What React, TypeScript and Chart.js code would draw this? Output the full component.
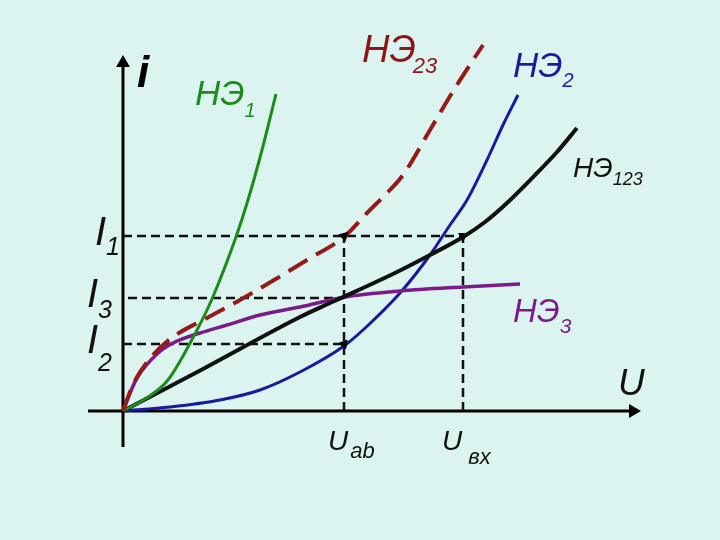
import React, { useEffect, useRef } from "react";
import { Chart, registerables } from "chart.js";

Chart.register(...registerables);

// Units: U and i in arbitrary diagram units (origin at the axes crossing)
const ne1U = [0, 2.2, 4.5, 7.4, 8.9, 11.3, 12.5, 13.9, 15.3];
const ne1I = [0, 1.2, 3.1, 8.1, 11.2, 17.4, 21.1, 26.1, 31.7];

const ne23U = [0, 0.7, 1.4, 3.0, 5.0, 8.4, 11.7, 18.4, 22.2, 24.5, 26.2, 28.0, 30.7, 33.2, 36.0];
const ne23I = [0, 1.9, 3.4, 5.6, 7.4, 9.3, 11.1, 15.1, 17.5, 19.9, 21.6, 23.6, 28.1, 32.3, 36.6];

const ne2U = [0, 4.7, 9.7, 13.7, 17.7, 22.1, 24.0, 27.7, 30.7, 32.7, 34.4, 36.4, 38.0, 39.5];
const ne2I = [0, 0.4, 1.1, 2.1, 3.9, 6.5, 8.1, 11.8, 15.6, 18.6, 21.1, 25.1, 28.6, 31.6];

const ne123U = [0, 8.0, 17.7, 20.7, 24.0, 27.4, 30.7, 34.0, 36.2, 38.4, 41.4, 43.4, 45.4];
const ne123I = [0, 4.2, 9.4, 10.8, 12.3, 13.9, 15.6, 17.4, 18.9, 20.8, 23.8, 25.9, 28.3];

const ne3U = [0, 0.5, 1.4, 3.4, 5.0, 7.7, 10.4, 13.7, 17.7, 22.2, 27.7, 34.0, 39.7];
const ne3I = [0, 1.3, 3.3, 5.7, 6.8, 7.8, 8.6, 9.6, 10.4, 11.4, 12.0, 12.4, 12.7];

const I1 = 17.5;
const I3 = 11.3;
const I2 = 6.7;
const Uab = 22.1;
const Uvx = 34.0;

const xAxisRange = [-3.5, 51.0];
const yAxisRange = [-3.6, 34.8];

const pts = (xs: number[], ys: number[]) => xs.map((x, k) => ({ x, y: ys[k] }));

const FONT = '"Liberation Sans", Arial, sans-serif';

type Lbl = {
  text: string;
  sub?: string;
  color: string;
  x: number;
  y: number;
  size: number;
  subSize?: number;
  subDy?: number;
  subDx?: number;
  weight?: string;
};

const labels: Lbl[] = [
  { text: "i", color: "#000", x: 1.4, y: 32.4, size: 44, weight: "bold" },
  { text: "НЭ", sub: "1", color: "#1a8c1a", x: 7.2, y: 30.6, size: 35, subSize: 20, subDy: 12 },
  { text: "НЭ", sub: "23", color: "#8e1515", x: 23.9, y: 34.9, size: 38, subSize: 22, subDy: 11, subDx: -3 },
  { text: "НЭ", sub: "2", color: "#1a1a9e", x: 39.0, y: 33.4, size: 35, subSize: 20, subDy: 10 },
  { text: "НЭ", sub: "123", color: "#111", x: 45.0, y: 23.4, size: 28, subSize: 18, subDy: 8 },
  { text: "НЭ", sub: "3", color: "#7d1a8a", x: 39.0, y: 8.9, size: 33, subSize: 21, subDy: 11 },
  { text: "I", sub: "1", color: "#111", x: -2.8, y: 16.6, size: 40, subSize: 25, subDy: 10 },
  { text: "I", sub: "3", color: "#111", x: -3.6, y: 10.4, size: 40, subSize: 25, subDy: 11 },
  { text: "I", sub: "2", color: "#111", x: -3.6, y: 5.8, size: 40, subSize: 25, subDy: 18 },
  { text: "U", color: "#111", x: 49.5, y: 1.6, size: 37 },
  { text: "U", sub: "ab", color: "#111", x: 20.5, y: -3.9, size: 28, subSize: 22, subDy: 8, subDx: 2 },
  { text: "U", sub: "вх", color: "#111", x: 31.9, y: -3.9, size: 28, subSize: 22, subDy: 14, subDx: 6 },
];

const labelPlugin = {
  id: "labels",
  afterDraw(chart: any) {
    const { ctx } = chart;
    const xs = chart.scales.x;
    const ys = chart.scales.y;
    ctx.save();
    ctx.textBaseline = "alphabetic";
    ctx.textAlign = "left";
    for (const l of labels) {
      const px = xs.getPixelForValue(l.x);
      const py = ys.getPixelForValue(l.y);
      ctx.fillStyle = l.color;
      ctx.font = `italic ${l.weight || "normal"} ${l.size}px ${FONT}`;
      ctx.fillText(l.text, px, py);
      const w = ctx.measureText(l.text).width;
      if (l.sub) {
        ctx.font = `italic normal ${l.subSize}px ${FONT}`;
        ctx.fillText(l.sub, px + w + (l.subDx || 0), py + (l.subDy || 0));
      }
    }
    ctx.restore();
  },
};

export default function App() {
  const ref = useRef<HTMLCanvasElement | null>(null);
  useEffect(() => {
    if (!ref.current) return;
    const dash = [9, 5];
    const refLine = (data: { x: number; y: number }[]) => ({
      data,
      borderColor: "#111",
      borderWidth: 2.5,
      borderDash: dash,
      pointRadius: 0,
      showLine: true,
      order: 10,
    });
    const curve = (data: any, color: string, width: number, order: number, extra: any = {}) => ({
      data,
      borderColor: color,
      borderWidth: width,
      pointRadius: 0,
      showLine: true,
      cubicInterpolationMode: "monotone",
      order,
      ...extra,
    });
    const chart = new Chart(ref.current, {
      type: "scatter",
      data: {
        datasets: [
          // axes
          {
            data: [{ x: xAxisRange[0], y: 0 }, { x: xAxisRange[1], y: 0 }],
            borderColor: "#000",
            backgroundColor: "#000",
            borderWidth: 3,
            showLine: true,
            pointRadius: [0, 5],
            pointStyle: "triangle",
            rotation: 90,
            order: 20,
          } as any,
          {
            data: [{ x: 0, y: yAxisRange[0] }, { x: 0, y: yAxisRange[1] }],
            borderColor: "#000",
            backgroundColor: "#000",
            borderWidth: 3,
            showLine: true,
            pointRadius: [0, 5],
            pointStyle: "triangle",
            rotation: 0,
            order: 20,
          } as any,
          refLine([{ x: 0, y: I1 }, { x: Uvx, y: I1 }]),
          refLine([{ x: 0.5, y: I3 }, { x: Uab, y: I3 }]),
          refLine([{ x: 0, y: I2 }, { x: Uab, y: I2 }]),
          refLine([{ x: Uab, y: 0 }, { x: Uab, y: I1 }]),
          refLine([{ x: Uvx, y: 0 }, { x: Uvx, y: I1 }]),
          curve(pts(ne2U, ne2I), "#1a1a9e", 3, 6),
          curve(pts(ne3U, ne3I), "#7d1a8a", 3.5, 5),
          curve(pts(ne123U, ne123I), "#111", 4, 4),
          curve(pts(ne1U, ne1I), "#1a8c1a", 3, 3),
          curve(pts(ne23U, ne23I), "#961a1a", 4, 2, { borderDash: [22, 10] }),
          {
            data: [
              { x: Uab, y: I1 },
              { x: Uvx, y: I1 },
              { x: Uab, y: I2 },
            ],
            backgroundColor: "#000",
            borderColor: "#000",
            pointStyle: "triangle",
            pointRadius: 5,
            rotation: [45, 60, 40],
            showLine: false,
            order: 1,
          } as any,
        ],
      },
      options: {
        animation: false,
        responsive: false,
        devicePixelRatio: 1,
        layout: { padding: 0, autoPadding: false },
        plugins: { legend: { display: false }, tooltip: { enabled: false } },
        events: [],
        scales: {
          x: { type: "linear", display: false, min: -12.3, max: 59.7 },
          y: { type: "linear", display: false, min: -12.9, max: 41.1 },
        },
      } as any,
      plugins: [labelPlugin],
    });
    return () => chart.destroy();
  }, []);
  return (
    <div
      style={{
        position: "fixed",
        left: 0,
        top: 0,
        width: 720,
        height: 540,
        background: "#dbf4f0",
      }}
    >
      <canvas ref={ref} width={720} height={540} style={{ display: "block" }} />
    </div>
  );
}
